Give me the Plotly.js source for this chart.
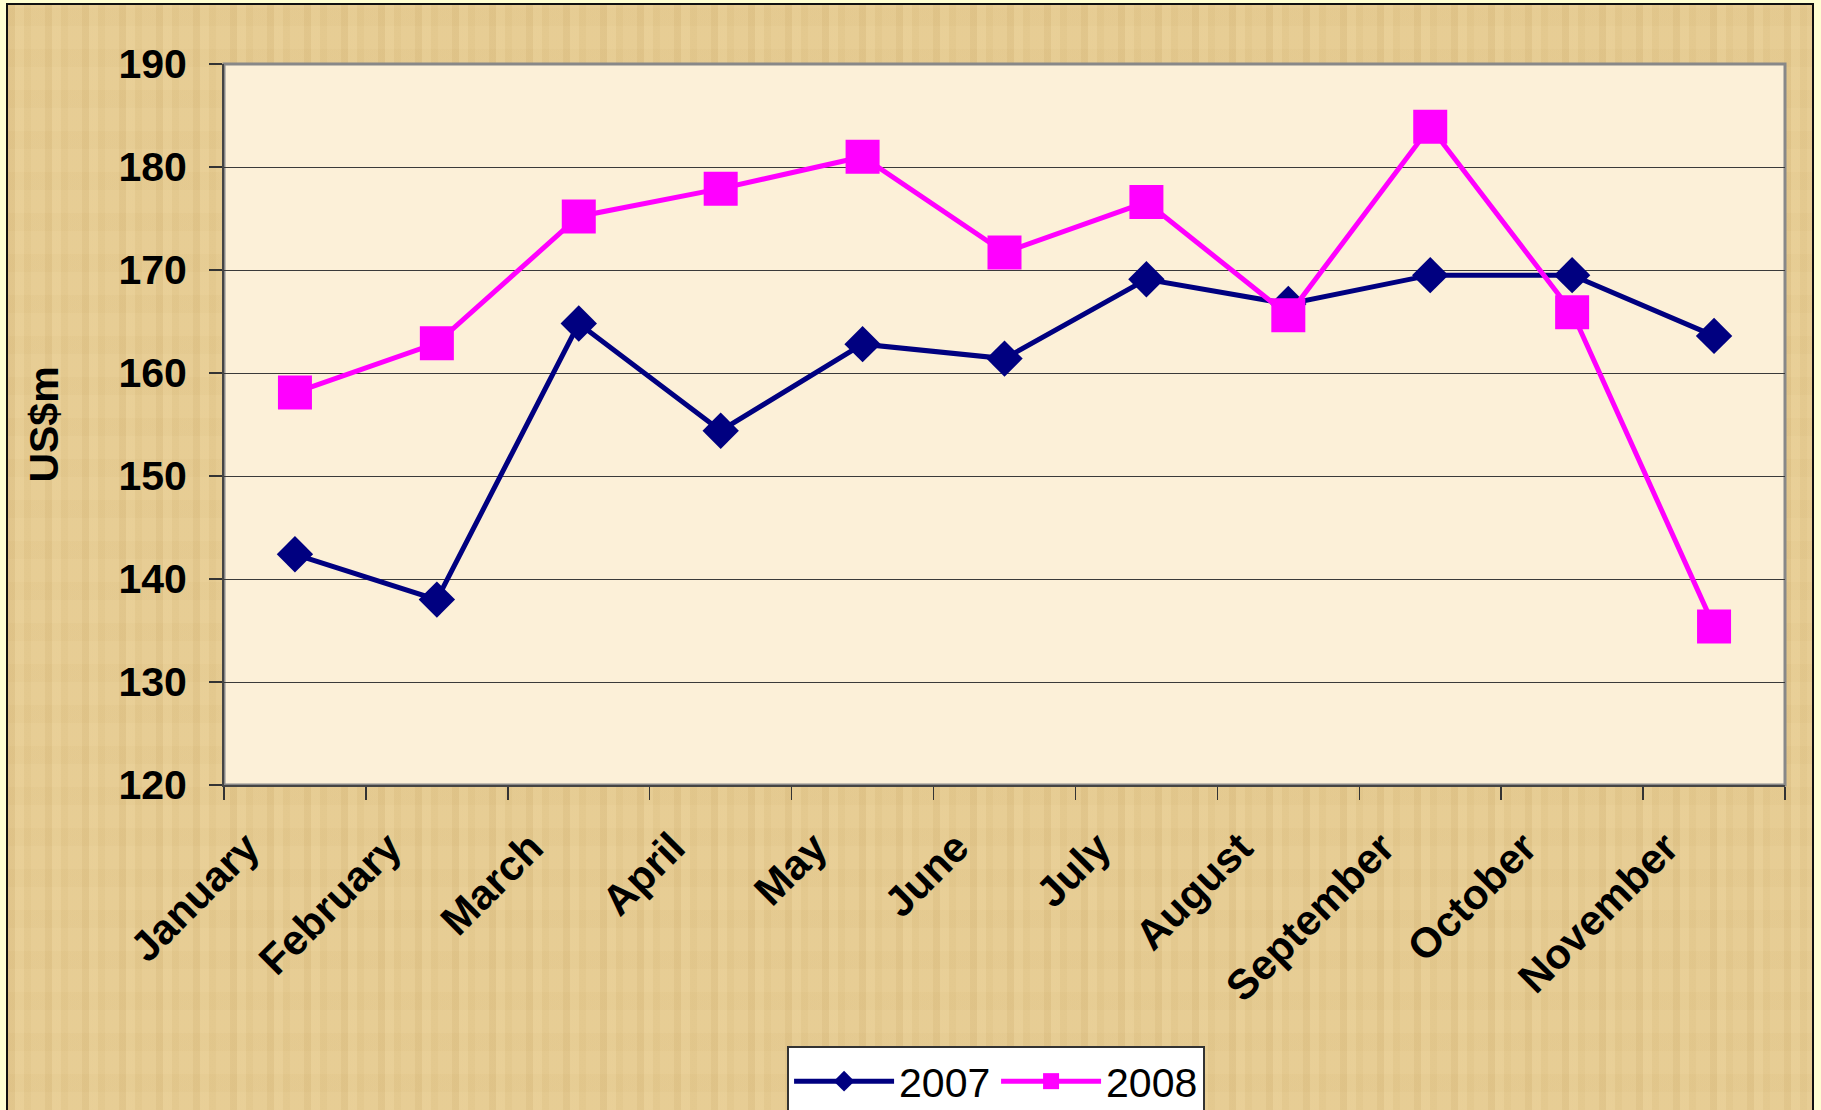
<!DOCTYPE html>
<html>
<head>
<meta charset="utf-8">
<script src="https://cdn.plot.ly/plotly-3.0.1.min.js"></script>
<style>
  html, body { margin: 0; padding: 0; background: #FFFFD2; width: 1821px; height: 1110px; overflow: hidden; }
  #frame {
    position: absolute; left: 6px; top: 3px; width: 1804px; height: 1110px;
    border-left: 2px solid #111; border-top: 2px solid #111; border-right: 2px solid #111;
    background-color: #E5CB93;
    background-image:
      repeating-linear-gradient(90deg, rgba(200,165,95,0.16) 0px, rgba(200,165,95,0.16) 7px, rgba(245,222,165,0.18) 7px, rgba(245,222,165,0.18) 16px, rgba(214,182,112,0.14) 16px, rgba(214,182,112,0.14) 23px, rgba(238,212,150,0.12) 23px, rgba(238,212,150,0.12) 37px),
      repeating-linear-gradient(0deg, rgba(240,215,160,0.08) 0px, rgba(240,215,160,0.08) 23px, rgba(205,170,100,0.07) 23px, rgba(205,170,100,0.07) 41px);
  }
  #chart { width: 1804px; height: 1105px; }
</style>
</head>
<body>
<div id="frame"><div id="chart"></div></div>
<script>
const months = ["January","February","March","April","May","June","July","August","September","October","November"];
const values2007 = [142.4, 138.0, 164.8, 154.4, 162.8, 161.4, 169.1, 166.7, 169.5, 169.5, 163.6];
const values2008 = [158.1, 162.9, 175.2, 177.9, 181.0, 171.7, 176.6, 165.6, 183.9, 165.9, 135.4];
const yTicks = [120, 130, 140, 150, 160, 170, 180, 190];

const traces = [
  {
    x: months, y: values2007, name: "2007", type: "scatter", mode: "lines+markers",
    line: {color: "#000080", width: 5},
    marker: {symbol: "diamond", size: 28, color: "#000080"}
  },
  {
    x: months, y: values2008, name: "2008", type: "scatter", mode: "lines+markers",
    line: {color: "#FF00FF", width: 5},
    marker: {symbol: "square", size: 34, color: "#FF00FF"}
  }
];

const layout = {
  width: 1804, height: 1105,
  margin: {l: 216, r: 27, t: 59, b: 325, autoexpand: false},
  paper_bgcolor: "rgba(0,0,0,0)",
  plot_bgcolor: "#FCF0D8",
  font: {family: "Liberation Sans, Arial, sans-serif", color: "#000"},
  showlegend: true,
  xaxis: {
    type: "category",
    categoryorder: "array", categoryarray: months,
    range: [-0.5, months.length - 0.5],
    automargin: false,
    tickson: "boundaries",
    ticks: "outside", ticklen: 13, tickwidth: 1.5, tickcolor: "#333",
    showline: true, linecolor: "#444", linewidth: 2,
    showgrid: false, zeroline: false,
    tickangle: -45,
    tickfont: {size: 42, weight: "bold", family: "Liberation Sans, Arial, sans-serif"},
    ticklabelstandoff: 19,
    ticklabelshift: -48
  },
  yaxis: {
    range: [120, 190],
    automargin: false,
    tickvals: yTicks, ticktext: yTicks.map(String),
    ticks: "outside", ticklen: 13, tickwidth: 1.5, tickcolor: "#333",
    showline: true, linecolor: "#444", linewidth: 2,
    showgrid: true, gridcolor: "#3a3a3a", gridwidth: 1,
    zeroline: false,
    tickfont: {size: 41, weight: "bold", family: "Liberation Sans, Arial, sans-serif"},
    ticklabelstandoff: 14,
    title: {text: "US$m", font: {size: 41, weight: "bold", family: "Liberation Sans, Arial, sans-serif"}, standoff: 47}
  },
  shapes: [
    {type: "rect", xref: "paper", yref: "paper", x0: 0, x1: 1, y0: 0, y1: 1,
     line: {color: "#888", width: 3}, layer: "below"}
  ],
  legend: {
    orientation: "h", x: 0.4946, xanchor: "center", y: -0.362, yanchor: "top",
    bgcolor: "#FFFFFF", bordercolor: "#333", borderwidth: 2,
    font: {size: 41, family: "Liberation Sans, Arial, sans-serif", color: "#000"},
    itemwidth: 100,
    entrywidth: 92
  }
};

Plotly.newPlot("chart", traces, layout, {displayModeBar: false, staticPlot: true});
</script>
</body>
</html>
